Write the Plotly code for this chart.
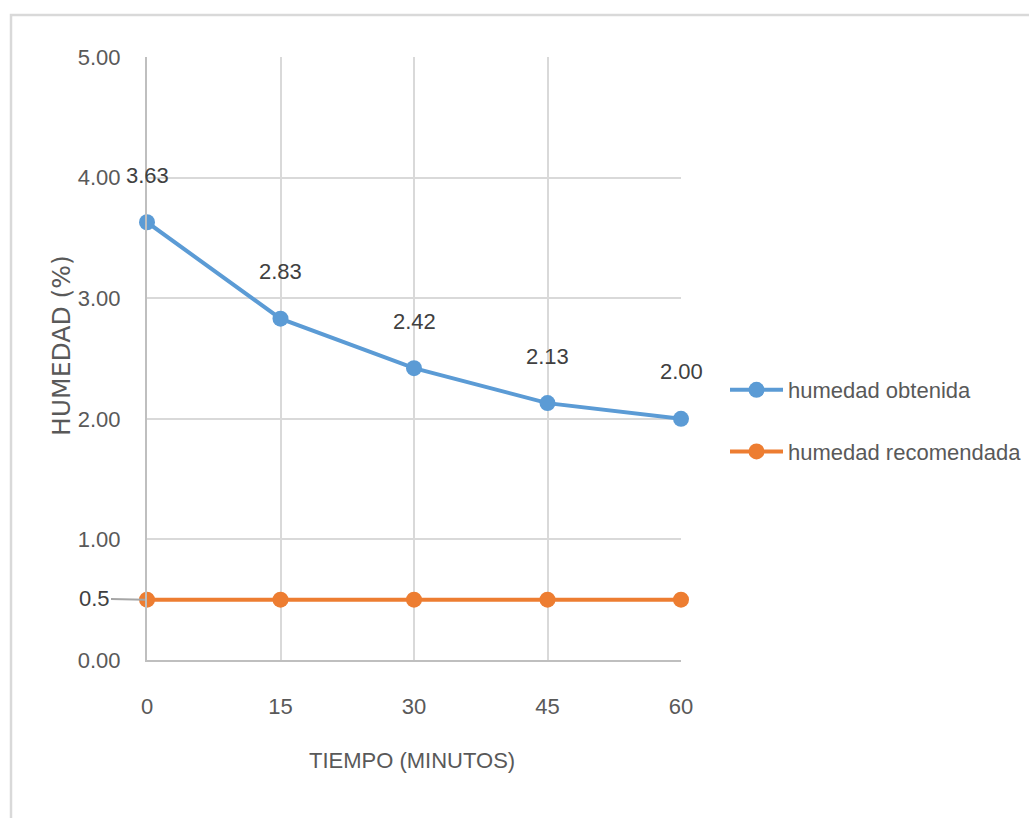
import plotly.graph_objects as go

# Drying time (minutes) and measured / recommended moisture (%)
minutes = [0, 15, 30, 45, 60]
humedad_obtenida = [3.63, 2.83, 2.42, 2.13, 2.00]
humedad_recomendada = [0.5, 0.5, 0.5, 0.5, 0.5]
y_ticks = [0, 1, 2, 3, 4, 5]
y_tick_text = ["0.00", "1.00", "2.00", "3.00", "4.00", "5.00"]

W, H = 1029, 818
L, R, T, B = 147, 348, 57, 158
PW, PH = W - L - R, H - T - B

FONT = "Liberation Sans, Arial, sans-serif"
FS = 22
TXT = "#595959"
BLUE = "#5B9BD5"
ORANGE = "#ED7D31"
GRID = "#D9D9D9"


def px_x(p):
    return (p - L) / PW


def px_y(p):
    return (H - B - p) / PH


fig = go.Figure()
fig.add_trace(go.Scatter(
    x=minutes, y=humedad_obtenida, name="humedad obtenida",
    mode="lines+markers", legendgroup="a",
    line=dict(color=BLUE, width=4),
    marker=dict(color=BLUE, size=16), cliponaxis=False,
))
fig.add_trace(go.Scatter(
    x=minutes, y=humedad_recomendada, name="humedad recomendada",
    mode="lines+markers", legendgroup="b",
    line=dict(color=ORANGE, width=4),
    marker=dict(color=ORANGE, size=16), cliponaxis=False,
))

annotations = []
# value labels above the measured series
for xm, v in zip(minutes, humedad_obtenida):
    annotations.append(dict(
        x=xm, y=v, text=f"{v:.2f}", showarrow=False, yshift=47,
        font=dict(family=FONT, size=FS, color="#404040"),
    ))
# single label on the first recommended point, with leader line
annotations.append(dict(
    x=minutes[0], y=humedad_recomendada[0], text=f"{humedad_recomendada[0]:g}",
    showarrow=True, arrowhead=0, arrowwidth=2, arrowcolor="#A6A6A6",
    ax=-53, ay=-1, standoff=2,
    font=dict(family=FONT, size=FS, color="#404040"),
))
# axis titles
annotations.append(dict(
    x=px_x(412), y=px_y(760), xref="paper", yref="paper",
    xanchor="center", yanchor="middle",
    text="TIEMPO (MINUTOS)", showarrow=False,
    font=dict(family=FONT, size=FS, color=TXT),
))
annotations.append(dict(
    x=px_x(61), y=px_y(346), xref="paper", yref="paper",
    xanchor="center", yanchor="middle",
    text="HUMEDAD (%)", showarrow=False, textangle=-90,
    font=dict(family="DejaVu Sans, sans-serif", size=25, color=TXT),
))

fig.update_layout(
    width=W, height=H,
    margin=dict(l=L, r=R, t=T, b=B, autoexpand=False),
    paper_bgcolor="white", plot_bgcolor="white",
    font=dict(family=FONT, size=FS, color=TXT),
    showlegend=True,
    legend=dict(
        x=px_x(725), y=px_y(369), xanchor="left", yanchor="top",
        font=dict(family=FONT, size=FS, color=TXT),
        itemwidth=53, tracegroupgap=30, bgcolor="rgba(0,0,0,0)",
    ),
    annotations=annotations,
    shapes=[dict(
        type="rect", xref="paper", yref="paper",
        x0=px_x(11), x1=px_x(1060), y0=px_y(850), y1=px_y(15),
        line=dict(color=GRID, width=2.5), layer="below",
    )],
)
fig.update_xaxes(
    range=[0, 60], tickvals=minutes, ticktext=[str(m) for m in minutes],
    showgrid=True, gridcolor=GRID, gridwidth=2,
    showline=True, linecolor="#BFBFBF", linewidth=2,
    zeroline=False, ticks="", ticklabelstandoff=26,
    tickfont=dict(family=FONT, size=FS, color=TXT),
)
fig.update_yaxes(
    range=[0, 5], tickvals=y_ticks, ticktext=y_tick_text,
    showgrid=True, gridcolor=GRID, gridwidth=2,
    showline=True, linecolor="#BFBFBF", linewidth=2,
    zeroline=False, ticks="", ticklabelstandoff=20,
    tickfont=dict(family=FONT, size=FS, color=TXT),
)

fig.write_html("out.html")
